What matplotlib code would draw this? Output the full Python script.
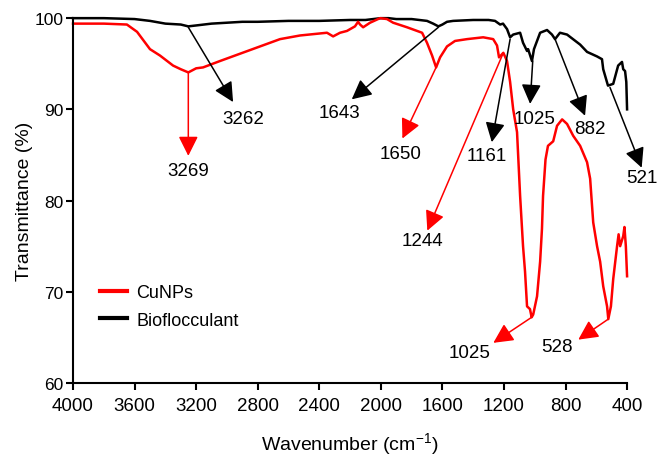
import matplotlib
matplotlib.use("Agg")
import matplotlib.pyplot as plt
from matplotlib.lines import Line2D

plt.rcParams["font.family"] = ["Liberation Sans", "DejaVu Sans"]
plt.rcParams["mathtext.default"] = "regular"

# --- Biofloculante (negro) ---
bio_wn = [4000, 3800, 3600, 3500, 3400, 3300, 3251, 3200, 3100, 3000,
          2900, 2800, 2600, 2400, 2200, 2100, 2050, 2000, 1950, 1900,
          1800, 1700, 1660, 1626, 1600, 1570, 1530, 1400, 1300, 1258,
          1225, 1206, 1180, 1160, 1140, 1095, 1076, 1050, 1043, 1018,
          1005, 965, 920, 888, 868, 836, 790, 705, 660, 595,
          563, 555, 524, 490, 458, 433, 425, 413, 405, 400]
bio_t = [100, 100, 99.9, 99.7, 99.4, 99.3, 99.1, 99.2, 99.4, 99.5,
         99.6, 99.6, 99.7, 99.7, 99.8, 99.8, 99.9, 100, 100, 99.9,
         99.9, 99.7, 99.4, 99.1, 99.3, 99.6, 99.7, 99.8, 99.8, 99.7,
         99.3, 99.4, 98.8, 97.9, 98.2, 98.4, 97.3, 96.4, 96.6, 95.3,
         96.6, 98.4, 98.7, 98.2, 97.7, 98.4, 98.2, 97.1, 96.3, 95.8,
         95.5, 94.4, 92.6, 92.8, 94.8, 95.2, 94.4, 94.2, 93.0, 90.0]

# --- CuNPs (rojo) ---
cu_wn = [4000, 3800, 3650, 3584, 3500, 3435, 3350, 3300, 3251, 3200,
         3155, 3045, 2915, 2785, 2655, 2525, 2350, 2310, 2265, 2220,
         2168, 2148, 2135, 2115, 2070, 2005, 1960, 1920, 1830, 1732,
         1700, 1667, 1641, 1615, 1570, 1518, 1440, 1335, 1270, 1245,
         1232, 1215, 1204, 1180, 1160, 1140, 1115, 1095, 1076, 1063,
         1050, 1031, 1020, 1010, 985, 965, 953, 946, 930, 914,
         880, 855, 822, 790, 750, 705, 660, 640, 620, 595,
         575, 555, 530, 522, 505, 490, 465, 455, 445, 425,
         417, 408, 400]
cu_t = [99.4, 99.4, 99.3, 98.5, 96.6, 95.9, 94.8, 94.4, 94.05, 94.5,
        94.6, 95.3, 96.1, 96.9, 97.7, 98.1, 98.4, 98.0, 98.4, 98.6,
        99.1, 99.6, 99.3, 99.0, 99.5, 100.0, 99.9, 99.5, 99.0, 98.4,
        97.3, 95.9, 94.6, 95.7, 96.9, 97.5, 97.7, 97.9, 97.7, 97.0,
        95.7, 96.0, 96.2, 95.3, 93.0, 90.0, 87.5, 80.5, 75.0, 72.2,
        68.4, 68.1, 67.2, 67.5, 69.5, 73.3, 76.9, 80.5, 84.5, 86.0,
        86.5, 88.2, 88.9, 88.4, 87.1, 86.0, 84.2, 82.4, 77.6, 75.0,
        73.3, 70.6, 68.4, 67.0, 68.4, 71.4, 75.0, 76.3, 75.0, 76.1,
        77.1, 75.0, 71.7]

# etiqueta, color, inicio de flecha, punta, posición del texto
picos = [
    ("3262", "black", (3251, 99.0), (2960, 90.8), (2895, 89.0)),
    ("1643", "black", (1626, 99.0), (2189, 91.1), (2272, 89.7)),
    ("1161", "black", (1160, 97.7), (1279, 86.4), (1310, 84.9)),
    ("1025", "black", (1013, 95.3), (1030, 90.6), (1004, 89.0)),
    ("882", "black", (868, 97.7), (673, 89.3), (641, 87.9)),
    ("521", "black", (511, 92.4), (305, 83.6), (303, 82.5)),
    ("3269", "red", (3251, 94.05), (3251, 84.9), (3251, 83.3)),
    ("1650", "red", (1641, 94.6), (1860, 86.8), (1869, 85.2)),
    ("1244", "red", (1204, 96.2), (1698, 76.7), (1728, 75.6)),
    ("1025", "red", (1020, 67.2), (1269, 64.4), (1425, 63.3)),
    ("528", "red", (522, 67.0), (717, 64.75), (853, 64.0)),
]

fig = plt.figure(figsize=(6.58, 4.56), dpi=100)
ax = fig.add_axes([0.111, 0.158, 0.842, 0.800])

ax.plot(bio_wn, bio_t, color="black", lw=1.8, clip_on=False)
ax.plot(cu_wn, cu_t, color="#ff0000", lw=1.8, clip_on=False)

for etiqueta, color, ini, punta, pos in picos:
    ax.annotate("", xy=punta, xytext=ini, annotation_clip=False,
                arrowprops=dict(arrowstyle="-|>,head_length=0.6,head_width=0.3",
                                color=color, lw=1.1, mutation_scale=20,
                                shrinkA=0, shrinkB=0))
    ax.text(pos[0], pos[1], etiqueta, fontsize=13.5, ha="center", va="center",
            color="black", clip_on=False)

ax.set_xlim(4000, 400)
ax.set_ylim(60, 100)
ax.set_xticks(range(4000, 399, -400))
ax.set_yticks([60, 70, 80, 90, 100])
ax.tick_params(direction="out", length=5, width=1.5)
ax.tick_params(axis="x", labelsize=13.5, pad=5)
ax.tick_params(axis="y", labelsize=12.5, pad=2)
for s in ["top", "right"]:
    ax.spines[s].set_visible(False)
for s in ["left", "bottom"]:
    ax.spines[s].set_linewidth(1.5)

ax.set_xlabel("Wavenumber (cm$^{-1}$)", fontsize=14, labelpad=12)
ax.set_ylabel("Transmittance (%)", fontsize=14, labelpad=1)

handles = [Line2D([], [], color="#ff0000", lw=3), Line2D([], [], color="black", lw=3)]
ax.legend(handles, ["CuNPs", "Bioflocculant"], loc="center left",
          bbox_to_anchor=(0.02, 0.21), frameon=False, fontsize=13,
          handlelength=1.5, handletextpad=0.5, labelspacing=0.6)

fig.savefig("out.png", dpi=100)
